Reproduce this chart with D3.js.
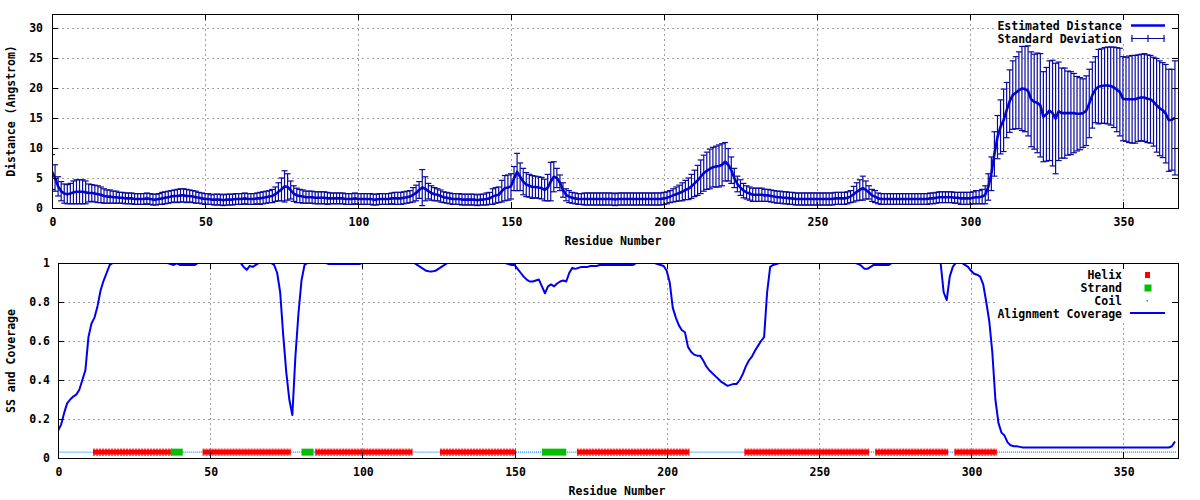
<!DOCTYPE html>
<html><head><meta charset="utf-8">
<script src="https://cdn.jsdelivr.net/npm/d3@7/dist/d3.min.js"></script>
<style>
body{margin:0;background:#fff;}
svg{display:block;}
text{font-family:"DejaVu Sans Mono",monospace;font-weight:bold;font-size:11.5px;fill:#000;}
</style>
</head><body>
<svg id="c" width="1200" height="500"></svg>
<script>
// ---------- DATA (index = residue number) ----------
const distance = [
6.0,5.0,3.6,2.8,2.4,2.3,2.4,2.6,2.7,2.7,
2.7,2.6,2.5,2.5,2.4,2.3,2.2,2.0,1.9,1.9,
1.8,1.8,1.7,1.7,1.6,1.6,1.6,1.5,1.5,1.5,
1.5,1.6,1.5,1.4,1.4,1.5,1.6,1.7,1.8,1.9,
2.0,2.0,2.1,2.1,2.0,2.0,1.9,1.8,1.7,1.6,
1.5,1.5,1.4,1.4,1.4,1.4,1.3,1.4,1.4,1.4,
1.5,1.5,1.5,1.6,1.5,1.5,1.5,1.6,1.6,1.7,
1.8,1.9,2.0,2.3,2.7,3.1,3.6,3.5,3.0,2.4,
2.1,2.0,1.9,1.8,1.8,1.8,1.7,1.7,1.7,1.7,
1.6,1.6,1.6,1.6,1.6,1.6,1.5,1.5,1.5,1.6,
1.5,1.5,1.5,1.5,1.5,1.4,1.4,1.5,1.5,1.5,
1.5,1.6,1.6,1.6,1.6,1.7,1.8,1.9,2.2,2.5,
3.0,3.4,3.2,2.8,2.5,2.3,2.2,2.0,1.8,1.7,
1.6,1.5,1.5,1.5,1.4,1.4,1.4,1.4,1.4,1.3,
1.4,1.4,1.5,1.6,1.9,2.1,2.2,2.8,3.3,3.4,
3.6,4.9,6.0,5.2,4.4,3.9,3.7,3.5,3.5,3.4,
3.3,3.0,3.4,4.4,5.2,5.0,4.2,3.0,2.2,1.9,
1.7,1.6,1.5,1.5,1.5,1.5,1.5,1.5,1.5,1.5,
1.5,1.5,1.5,1.5,1.4,1.5,1.5,1.5,1.5,1.5,
1.5,1.5,1.5,1.5,1.5,1.5,1.5,1.5,1.5,1.5,
1.6,1.7,1.9,2.1,2.3,2.5,2.7,3.0,3.2,3.6,
4.1,4.6,5.2,5.8,6.2,6.5,6.8,6.9,7.0,7.2,
7.7,7.2,6.3,5.0,4.0,3.4,2.9,2.6,2.4,2.2,
2.2,2.2,2.2,2.1,2.1,2.0,1.9,1.8,1.8,1.7,
1.7,1.6,1.6,1.5,1.5,1.5,1.5,1.5,1.5,1.5,
1.5,1.5,1.5,1.5,1.5,1.5,1.6,1.6,1.6,1.6,
1.7,1.9,2.3,2.7,3.0,3.3,3.0,2.6,2.1,1.9,
1.6,1.5,1.5,1.5,1.5,1.5,1.5,1.5,1.5,1.5,
1.5,1.5,1.5,1.5,1.5,1.5,1.5,1.6,1.6,1.7,
1.8,1.8,1.8,1.8,1.8,1.7,1.7,1.6,1.6,1.6,
1.6,1.7,1.8,1.8,1.9,2.2,3.5,5.7,9.0,11.8,
13.5,14.6,16.3,17.8,18.8,19.2,19.6,19.9,19.8,19.5,
18.1,17.7,17.5,17.1,15.2,15.6,16.2,15.8,14.9,16.1,
15.8,15.8,15.8,15.8,15.8,15.7,15.7,15.8,16.2,17.4,
18.8,19.7,20.2,20.3,20.4,20.4,20.3,20.1,19.7,19.3,
18.2,18.1,18.1,18.1,18.1,18.3,18.4,18.4,18.2,18.1,
17.7,17.1,16.6,16.3,15.7,14.6,14.7,15.0];

const stdDev = [
2.9,2.2,1.6,1.6,1.6,1.6,1.7,1.9,2.0,2.0,
2.0,1.9,1.5,1.4,1.4,1.4,1.3,1.2,1.1,1.1,
1.0,1.0,0.9,0.9,0.9,0.9,0.9,0.9,0.9,0.9,
0.9,0.9,0.9,0.9,0.9,0.9,1.0,1.0,1.0,1.0,
1.0,1.1,1.1,1.1,1.1,1.0,1.0,1.0,0.9,0.9,
0.9,0.9,0.8,0.9,0.9,0.9,0.9,0.9,0.9,0.9,
0.9,0.9,0.9,0.9,0.9,0.9,0.9,0.9,1.0,1.0,
1.0,1.0,1.1,1.2,1.5,1.9,2.6,2.2,1.5,1.3,
1.2,1.1,1.1,1.0,1.0,1.0,1.0,1.0,1.0,1.0,
1.0,0.9,0.9,0.9,0.9,0.9,0.9,0.9,0.9,0.9,
0.9,0.9,0.9,0.9,0.9,0.9,0.9,0.9,0.9,0.9,
0.9,0.9,1.0,1.0,1.0,1.0,1.0,1.0,1.2,1.3,
1.4,3.0,2.0,1.3,1.2,1.1,1.0,1.0,0.9,0.9,
0.9,0.9,0.9,0.9,0.9,0.9,0.9,0.9,0.9,0.9,
0.9,0.9,1.0,1.0,1.3,1.3,1.3,1.8,2.1,2.1,
2.1,2.0,3.1,2.3,2.2,2.0,1.9,1.9,1.8,1.8,
1.8,1.8,2.2,3.2,2.5,1.6,1.3,1.2,1.0,1.0,
0.9,0.9,0.9,0.9,1.0,1.0,1.0,1.0,1.0,1.0,
1.0,1.0,1.0,1.0,1.0,1.0,1.0,1.0,1.0,1.0,
1.0,1.0,1.0,1.0,1.0,1.0,1.0,1.0,1.0,1.0,
1.0,1.0,1.0,1.1,1.2,1.3,1.5,1.6,1.8,2.0,
2.2,2.5,2.8,3.0,3.1,3.3,3.3,3.4,3.5,3.5,
3.2,2.7,2.2,1.6,1.3,1.3,1.2,1.1,1.1,1.1,
1.1,1.1,1.1,1.0,1.0,1.0,1.0,1.0,1.0,1.0,
1.0,1.0,1.0,1.0,1.0,1.0,1.0,1.0,1.0,1.0,
1.0,1.0,1.0,1.0,1.0,1.0,1.0,1.0,1.0,1.0,
1.0,1.0,1.3,1.5,1.7,2.0,1.5,1.1,1.0,1.0,
0.9,0.9,0.9,0.9,0.9,0.9,0.9,0.9,0.9,0.9,
0.9,0.9,0.9,0.9,0.9,0.9,0.9,0.9,0.9,0.9,
0.9,0.9,0.9,0.9,0.9,0.9,0.9,1.0,1.0,1.0,
1.0,1.0,1.1,1.1,1.2,1.5,2.2,2.8,3.7,3.6,
4.5,5.2,4.6,5.2,5.7,6.0,6.4,7.0,7.1,7.5,
7.9,7.9,8.3,8.6,7.5,7.8,8.3,8.8,9.2,8.2,
7.5,7.5,7.0,6.9,6.6,6.2,6.0,5.7,5.8,5.7,
5.5,5.5,6.2,6.2,6.3,6.4,6.5,6.7,7.0,7.3,
7.0,7.0,7.2,7.3,7.3,7.2,7.2,7.3,7.3,7.3,
7.4,7.8,7.9,7.9,8.2,8.5,8.4,9.5];

const coverage = [
0.14,0.17,0.23,0.28,0.30,0.315,0.325,0.35,0.40,0.45,
0.62,0.69,0.72,0.78,0.86,0.91,0.95,0.99,1,1,
1,1,1,1,1,1,1,1,1,1,
1,1,1,1,1,1,1,0.995,0.99,0.998,
0.99,0.99,0.99,0.99,0.99,0.99,1,1,1,1,
1,1,1,1,1,1,1,1,1,1,
1,0.98,0.965,0.985,0.98,0.99,1,1,1,1,
1,0.99,0.95,0.85,0.63,0.44,0.30,0.22,0.52,0.74,
0.91,0.99,1,1,1,1,1,1,1,0.995,
0.995,0.995,0.995,0.995,0.995,0.995,0.995,0.995,0.995,0.995,
1,1,1,1,1,1,1,1,1,1,
1,1,1,1,1,1,1,1,0.99,0.98,
0.97,0.96,0.957,0.957,0.96,0.97,0.98,0.99,1,1,
1,1,1,1,1,1,1,1,1,1,
1,1,1,1,1,1,1,1,0.995,0.99,
0.99,0.97,0.95,0.93,0.915,0.905,0.905,0.91,0.915,0.88,
0.845,0.88,0.89,0.88,0.895,0.905,0.91,0.905,0.95,0.975,
0.97,0.975,0.98,0.98,0.98,0.985,0.985,0.985,0.99,0.99,
0.99,0.99,0.99,0.99,0.99,0.99,0.99,0.99,0.99,0.99,
1,1,1,1,1,1,1,0.995,0.99,0.985,
0.96,0.90,0.77,0.72,0.68,0.655,0.645,0.57,0.545,0.53,
0.525,0.525,0.50,0.47,0.45,0.435,0.42,0.405,0.39,0.38,
0.37,0.375,0.38,0.38,0.40,0.43,0.47,0.50,0.52,0.55,
0.575,0.60,0.62,0.85,0.98,0.99,0.995,1,1,1,
1,1,1,1,1,1,1,1,1,1,
1,1,1,1,1,1,1,1,1,1,
1,1,1,0.995,0.985,0.97,0.97,0.98,0.99,0.99,
0.99,0.99,0.99,0.99,1,1,1,1,1,1,
1,1,1,1,1,1,1,1,1,1,
1,0.85,0.81,0.93,0.98,1,1,1,0.99,0.98,
0.96,0.945,0.94,0.93,0.89,0.80,0.70,0.54,0.30,0.18,
0.13,0.115,0.08,0.065,0.06,0.06,0.057,0.054,0.054,0.054,
0.054,0.054,0.054,0.054,0.054,0.054,0.054,0.054,0.054,0.054,
0.054,0.054,0.054,0.054,0.054,0.054,0.054,0.054,0.054,0.054,
0.054,0.054,0.054,0.054,0.054,0.054,0.054,0.054,0.054,0.054,
0.054,0.054,0.054,0.054,0.054,0.054,0.054,0.054,0.054,0.054,
0.054,0.054,0.054,0.054,0.054,0.054,0.06,0.085];

// secondary structure segments [first residue, last residue]
const helixSegments  = [[12,37],[48,76],[85,116],[126,150],[171,207],[226,266],[269,292],[295,308]];
const strandSegments = [[38,40],[81,83],[160,166]];
const ssLevel = 0.03;

const xTickValues = [0,50,100,150,200,250,300,350];
const yTopTicks = [0,5,10,15,20,25,30];
const yBotTicks = [0,0.2,0.4,0.6,0.8,1];
const yBotTickLabels = ["0","0.2","0.4","0.6","0.8","1"];
const xDomain = [0,368];
const yTopDomain = [0,32.3];
const yBotDomain = [0,1];

// ---------- DRAW ----------
const svg = d3.select("#c");
const gridColor = "#a0a0a0";
const barColor = "#0a0a9e";
const lineColor = "#0000f0";

function frame(x, y, xt, yt, legendBox){
  const [x0,x1] = x.range(), [y0,y1] = y.range();
  const g = svg.append("g");
  g.selectAll(".gx").data(xt.filter(v=>v>0)).join("line")
    .attr("x1",d=>Math.round(x(d))+0.5).attr("x2",d=>Math.round(x(d))+0.5)
    .attr("y1",y1).attr("y2",y0).attr("stroke",gridColor).attr("stroke-dasharray","2,3");
  g.selectAll(".gy").data(yt.filter(v=>v>0 && v<y.domain()[1]-1e-9)).join("line")
    .attr("y1",d=>Math.round(y(d))+0.5).attr("y2",d=>Math.round(y(d))+0.5)
    .attr("x1",x0).attr("x2",x1).attr("stroke",gridColor).attr("stroke-dasharray","2,3");
  g.append("rect").attr("x",legendBox[0]).attr("y",legendBox[1])
    .attr("width",legendBox[2]).attr("height",legendBox[3]).attr("fill","#fff");
  return g;
}
function axes(x, y, xt, yt, ytLabels, xLabY, yLabX){
  const [x0,x1] = x.range(), [y0,y1] = y.range();
  const g = svg.append("g");
  const L = 6;
  xt.forEach(v=>{
    const px = Math.round(x(v))+0.5;
    g.append("line").attr("x1",px).attr("x2",px).attr("y1",y0).attr("y2",y0-L).attr("stroke","#000");
    g.append("line").attr("x1",px).attr("x2",px).attr("y1",y1).attr("y2",y1+L).attr("stroke","#000");
    g.append("text").attr("x",x(v)+1).attr("y",xLabY).attr("dy","0.35em").attr("text-anchor","middle").text(v);
  });
  yt.forEach((v,i)=>{
    const py = Math.round(y(v))+0.5;
    g.append("line").attr("x1",x0).attr("x2",x0+L).attr("y1",py).attr("y2",py).attr("stroke","#000");
    g.append("line").attr("x1",x1).attr("x2",x1-L).attr("y1",py).attr("y2",py).attr("stroke","#000");
    g.append("text").attr("x",yLabX).attr("y",y(v)).attr("dy","0.35em").attr("text-anchor","end").text(ytLabels[i]);
  });
  g.append("rect").attr("x",x0+0.5).attr("y",y1+0.5).attr("width",x1-x0).attr("height",y0-y1)
    .attr("fill","none").attr("stroke","#000").attr("stroke-width",1);
}

// ===== TOP PANEL =====
const xT = d3.scaleLinear().domain(xDomain).range([52,1178]);
const yT = d3.scaleLinear().domain(yTopDomain).range([208,14]);
frame(xT,yT,xTickValues,yTopTicks,[997,15,178,29]);

svg.append("clipPath").attr("id","clipT").append("rect").attr("x",52).attr("y",14).attr("width",1126).attr("height",194);
const gT = svg.append("g").attr("clip-path","url(#clipT)");
const pts = distance.map((d,i)=>({r:i,d:d,s:stdDev[i]}));
gT.append("path").datum(pts)
  .attr("d",d3.line().x(p=>xT(p.r)).y(p=>yT(p.d)))
  .attr("fill","none").attr("stroke",lineColor).attr("stroke-width",2.6).attr("stroke-linejoin","round");
const eb = gT.append("g").attr("stroke",barColor).attr("stroke-width",1.2);
pts.forEach(p=>{
  const cx = xT(p.r), ya = yT(p.d+p.s), yb = yT(Math.max(0,p.d-p.s));
  eb.append("line").attr("x1",cx).attr("x2",cx).attr("y1",ya).attr("y2",yb);
  eb.append("line").attr("x1",cx-3).attr("x2",cx+3).attr("y1",ya).attr("y2",ya);
  eb.append("line").attr("x1",cx-3).attr("x2",cx+3).attr("y1",yb).attr("y2",yb);
});
axes(xT,yT,xTickValues,yTopTicks,yTopTicks.map(String),222,43);
svg.append("text").attr("x",613).attr("y",241).attr("dy","0.35em").attr("text-anchor","middle").text("Residue Number");
svg.append("text").attr("transform","translate(11,111) rotate(-90)").attr("dy","0.35em").attr("text-anchor","middle").text("Distance (Angstrom)");
svg.append("text").attr("x",1122).attr("y",26).attr("dy","0.35em").attr("text-anchor","end").text("Estimated Distance");
svg.append("line").attr("x1",1131).attr("x2",1165).attr("y1",25.5).attr("y2",25.5).attr("stroke",lineColor).attr("stroke-width",2.5);
svg.append("text").attr("x",1122).attr("y",39).attr("dy","0.35em").attr("text-anchor","end").text("Standard Deviation");
const lg = svg.append("g").attr("stroke",barColor).attr("stroke-width",1.2);
lg.append("line").attr("x1",1131).attr("x2",1165).attr("y1",38.5).attr("y2",38.5);
[1132,1148,1164].forEach(px=>lg.append("line").attr("x1",px).attr("x2",px).attr("y1",35).attr("y2",42));

// ===== BOTTOM PANEL =====
const xB = d3.scaleLinear().domain(xDomain).range([58,1178]);
const yB = d3.scaleLinear().domain(yBotDomain).range([458,263]);
frame(xB,yB,xTickValues,yBotTicks,[997,264,178,56]);

svg.append("clipPath").attr("id","clipB").append("rect").attr("x",58).attr("y",263).attr("width",1120).attr("height",195);
const gB = svg.append("g").attr("clip-path","url(#clipB)");
const ssY = yB(ssLevel);
const isSS = new Array(coverage.length).fill(false);
helixSegments.concat(strandSegments).forEach(([a,b])=>{for(let r=a;r<=b;r++) isSS[r]=true;});
const coilRuns = [];
let st = null;
for(let r=0;r<coverage.length;r++){
  if(!isSS[r] && st===null) st=r;
  if((isSS[r] || r===coverage.length-1) && st!==null){ coilRuns.push([st, isSS[r]?r-1:r]); st=null; }
}
gB.selectAll(".coil").data(coilRuns).join("line")
  .attr("x1",d=>xB(d[0]-0.5)).attr("x2",d=>xB(d[1]+0.5)).attr("y1",ssY).attr("y2",ssY)
  .attr("stroke","#0a8cff").attr("stroke-width",1.2).attr("stroke-dasharray","1,1");
gB.selectAll(".helix").data(helixSegments).join("rect")
  .attr("x",d=>xB(d[0]-0.5)).attr("width",d=>xB(d[1]+0.5)-xB(d[0]-0.5))
  .attr("y",ssY-2.5).attr("height",5).attr("fill","#ff0000");
[-3, 3].forEach(off=>{
  gB.selectAll(null).data(helixSegments).join("line")
    .attr("x1",d=>xB(d[0]-0.5)).attr("x2",d=>xB(d[1]+0.5)).attr("y1",ssY+off).attr("y2",ssY+off)
    .attr("stroke","#ff0000").attr("stroke-width",1).attr("stroke-dasharray","2,1");
});
gB.selectAll(".strand").data(strandSegments).join("rect")
  .attr("x",d=>xB(d[0]-0.5)-1.5).attr("width",d=>xB(d[1]+0.5)-xB(d[0]-0.5)+3)
  .attr("y",ssY-3.5).attr("height",7).attr("fill","#00c000");
gB.append("path").datum(coverage)
  .attr("d",d3.line().x((v,i)=>xB(i)).y(v=>yB(v)))
  .attr("fill","none").attr("stroke",lineColor).attr("stroke-width",2).attr("stroke-linejoin","round");

axes(xB,yB,xTickValues,yBotTicks,yBotTickLabels,472,50);
svg.append("text").attr("x",617).attr("y",491).attr("dy","0.35em").attr("text-anchor","middle").text("Residue Number");
svg.append("text").attr("transform","translate(11,361) rotate(-90)").attr("dy","0.35em").attr("text-anchor","middle").text("SS and Coverage");
const legB = [["Helix",275],["Strand",288],["Coil",301],["Alignment Coverage",314]];
legB.forEach(([t,yy])=>svg.append("text").attr("x",1122).attr("y",yy).attr("dy","0.35em").attr("text-anchor","end").text(t));
svg.append("rect").attr("x",1145).attr("y",272).attr("width",5).attr("height",6).attr("fill","#ff0000");
svg.append("rect").attr("x",1144.5).attr("y",284.5).attr("width",7).attr("height",7).attr("fill","#00c000");
svg.append("rect").attr("x",1146.5).attr("y",300).attr("width",1.5).attr("height",1.5).attr("fill","#0a8cff");
svg.append("line").attr("x1",1130).attr("x2",1165).attr("y1",313).attr("y2",313).attr("stroke",lineColor).attr("stroke-width",2);
</script>
</body></html>
